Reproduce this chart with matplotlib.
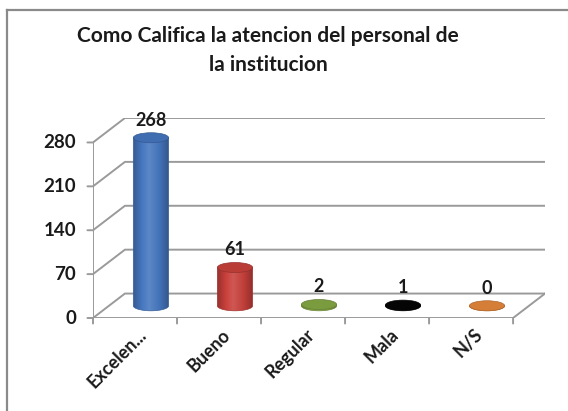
import numpy as np
import matplotlib
matplotlib.use("Agg")
import matplotlib.pyplot as plt
from matplotlib.colors import LinearSegmentedColormap, to_rgb
from matplotlib.lines import Line2D
from matplotlib.patches import Ellipse, Polygon

plt.rcParams['font.family'] = ['Lato', 'DejaVu Sans']

categories = ['Excelen...', 'Bueno', 'Regular', 'Mala', 'N/S']
counts = [268, 61, 2, 1, 0]
bar_colors = ['#4677c0', '#c9413c', '#86a845', '#050505', '#e8893c']
y_ticks = [0, 70, 140, 210, 280]
title = 'Como Califica la atencion del personal de\nla institucion'

# depth of the fake 3-D box, in data units
DX = 0.38
DY = 39
BAR_W = 0.42
CAP_H = 16
GRID = '#9a9a9a'
TEXT = '#1a1a1a'


def shade(color, f):
    r, g, b = to_rgb(color)
    if f < 1:
        return (r * f, g * f, b * f)
    return tuple(c + (1 - c) * (f - 1) for c in (r, g, b))


def draw_cylinder(ax, cx, base, height, color):
    half = BAR_W / 2
    top = base + height
    t = np.linspace(np.pi, 2 * np.pi, 80)
    arc = np.column_stack([cx + half * np.cos(t), base + CAP_H / 2 * np.sin(t)])
    pts = np.vstack([[cx - half, top], arc, [cx + half, top]])
    body = Polygon(pts, closed=True, facecolor='none',
                   edgecolor=shade(color, 0.8), lw=0.5, zorder=4)
    ax.add_patch(body)
    cmap = LinearSegmentedColormap.from_list(
        'cyl', [(0, shade(color, 0.75)), (0.25, shade(color, 1.0)),
                (0.45, shade(color, 1.12)), (0.75, shade(color, 0.95)),
                (1, shade(color, 0.72))])
    grad = np.linspace(0, 1, 256).reshape(1, -1)
    im = ax.imshow(grad, cmap=cmap, aspect='auto', zorder=3,
                   extent=[cx - half, cx + half, base - CAP_H / 2, top])
    im.set_clip_path(body)
    cap = Ellipse((cx, top), BAR_W, CAP_H, facecolor=shade(color, 0.92),
                  edgecolor=shade(color, 0.75), lw=0.5, zorder=5)
    ax.add_patch(cap)


fig = plt.figure(figsize=(5.68, 4.11), dpi=100)
fig.patch.set_facecolor('white')

# chart frame: only top and left edges fall inside the image
fx, fy = 7 / 568, 1 - 10 / 411
fig.add_artist(Line2D([fx, 1.0], [fy, fy], transform=fig.transFigure,
                      color='#8a8a8a', lw=1.6))
fig.add_artist(Line2D([fx, fx], [0, fy], transform=fig.transFigure,
                      color='#8a8a8a', lw=1.6))

fig.text(0.472, 1 - 26 / 411, title, ha='center', va='top',
         fontsize=15, fontweight='bold', color=TEXT, linespacing=1.55)

ax = fig.add_axes([93 / 568, 1 - 318 / 411, 452 / 568, 200 / 411])
ax.set_axis_off()
n = len(categories)
x0, x1 = -0.5, n - 0.5

# walls and gridlines
for v in y_ticks:
    ax.plot([x0, x0 + DX, x1 + DX], [v, v + DY, v + DY],
            color=GRID, lw=1.4, zorder=1, solid_capstyle='butt')
ax.plot([x1, x1 + DX], [0, DY], color=GRID, lw=1.4, zorder=1)
ax.plot([x0, x1], [0, 0], color=GRID, lw=1.4, zorder=2)
ax.plot([x0, x0], [0, y_ticks[-1]], color=GRID, lw=1.4, zorder=2)

for v in y_ticks:
    ax.annotate('', xy=(x0, v), xytext=(-4, 0), textcoords='offset points',
                arrowprops=dict(arrowstyle='-', color=GRID, lw=1.4,
                                shrinkA=0, shrinkB=0))
    ax.annotate(str(v), xy=(x0, v), xytext=(-12, 0), textcoords='offset points',
                ha='right', va='center', fontsize=13.5, fontweight='bold',
                color=TEXT)
for k in range(n + 1):
    ax.annotate('', xy=(x0 + k, 0), xytext=(0, -4), textcoords='offset points',
                arrowprops=dict(arrowstyle='-', color=GRID, lw=1.4,
                                shrinkA=0, shrinkB=0))

for i, (lab, val, col) in enumerate(zip(categories, counts, bar_colors)):
    cx = i + DX / 2
    draw_cylinder(ax, cx, DY / 2, val, col)
    ax.annotate(str(val), xy=(cx, DY / 2 + val + CAP_H / 2), xytext=(0, 3),
                textcoords='offset points', ha='center', va='bottom',
                fontsize=13, fontweight='bold', color=TEXT, zorder=6)
    ax.annotate(lab, xy=(i, 0), xytext=(6, -10), textcoords='offset points',
                ha='right', va='center', rotation=45, rotation_mode='anchor',
                fontsize=13, fontweight='bold', color=TEXT)

ax.set_xlim(x0, x1 + DX)
ax.set_ylim(0, y_ticks[-1] + DY)

fig.savefig('out.png', dpi=100, facecolor='white')
